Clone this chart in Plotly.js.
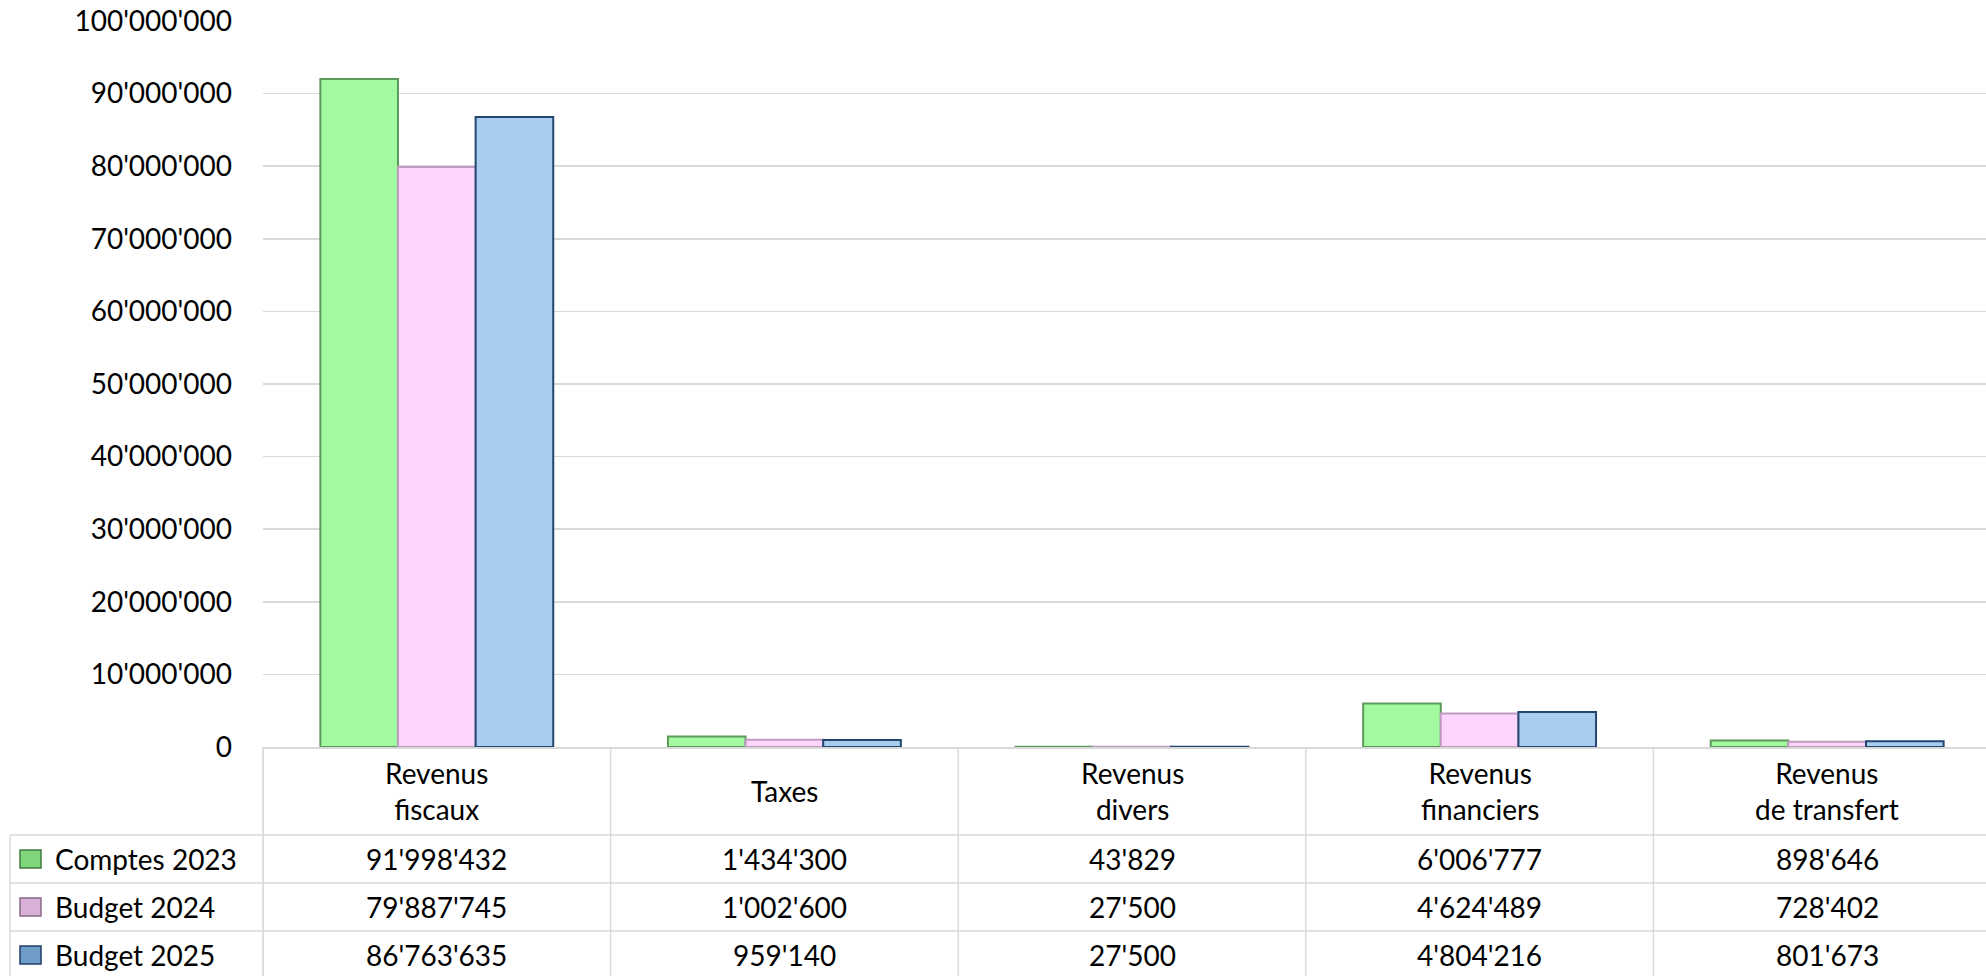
<!DOCTYPE html>
<html><head><meta charset="utf-8">
<script src="https://cdn.plot.ly/plotly-3.0.1.min.js"></script>
<style>html,body{margin:0;padding:0;background:#fff;overflow:hidden}#chart{width:1986px;height:976px}</style>
</head><body><div id="chart"></div>
<script>
// ---- data ----
const categories = ["Revenus<br>fiscaux", "Taxes", "Revenus<br>divers", "Revenus<br>financiers", "Revenus<br>de transfert"];
const seriesNames = ["Comptes 2023", "Budget 2024", "Budget 2025"];
const comptes2023 = [91998432, 1434300, 43829, 6006777, 898646];
const budget2024 = [79887745, 1002600, 27500, 4624489, 728402];
const budget2025 = [86763635, 959140, 27500, 4804216, 801673];
const yTicks = [0, 10000000, 20000000, 30000000, 40000000, 50000000, 60000000, 70000000, 80000000, 90000000, 100000000];

// ---- style ----
const fills = ["#a3f9a0", "#fdd5fd", "#a8cdf0"];
const edges = ["#5c9a59", "#c09ac0", "#23466f"];
const keyFills = ["#7fd57c", "#d8b0d8", "#6f9cc8"];
const keyEdges = ["#3f7a3c", "#8a6a8a", "#1f3f66"];
const FONT = "Lato, 'Open Sans', sans-serif";
const TXT = "#000000";
const GRID = "#d9d9d9";

const W = 1986, H = 976, L = 263, T = 21, B = 747;
const plotW = W - L, plotH = B - T;
const px = X => (X - L) / plotW;
const py = Y => (B - Y) / plotH;

const series = [comptes2023, budget2024, budget2025];
const idx = categories.map((c, i) => i);

function fmt(v) {
  return String(Math.round(v)).replace(/\B(?=(\d{3})+(?!\d))/g, "'");
}

const traces = series.map((vals, s) => ({
  type: "bar",
  name: seriesNames[s],
  x: idx,
  y: vals,
  marker: {color: fills[s], line: {color: edges[s], width: 2}},
  hoverinfo: "skip"
}));

const shapes = [];
const annotations = [];
const lineStyle = {color: GRID, width: 1.5};

const headerTop = B, headerBot = 835, rowH = 48;
const rowLines = [835, 883, 931];

for (let k = 0; k <= categories.length; k++) {
  shapes.push({type: "line", xref: "x", yref: "paper", x0: k - 0.5, x1: k - 0.5,
    y0: py(headerTop), y1: py(H + 5), line: lineStyle, layer: "above"});
}
shapes.push({type: "line", xref: "paper", yref: "paper", x0: px(10), x1: px(10),
  y0: py(headerBot), y1: py(H + 5), line: lineStyle});
shapes.push({type: "line", xref: "paper", yref: "paper", x0: 0, x1: 0,
  y0: py(headerTop), y1: py(H + 5), line: lineStyle});
rowLines.forEach(Y => shapes.push({type: "line", xref: "paper", yref: "paper",
  x0: px(10), x1: 1, y0: py(Y), y1: py(Y), line: lineStyle}));

categories.forEach((c, i) => annotations.push({
  xref: "x", yref: "paper", x: i, y: py((headerTop + headerBot) / 2),
  text: c, showarrow: false, xanchor: "center", yanchor: "middle",
  font: {family: FONT, size: 28, color: TXT}
}));

series.forEach((vals, s) => {
  const top = headerBot + s * rowH;
  const cy = top + rowH / 2;
  shapes.push({type: "rect", xref: "paper", yref: "paper",
    x0: px(20), x1: px(41), y0: py(cy - 9), y1: py(cy + 9),
    fillcolor: keyFills[s], line: {color: keyEdges[s], width: 1.5}});
  annotations.push({xref: "paper", yref: "paper", x: px(53), y: py(cy),
    text: seriesNames[s], showarrow: false, xanchor: "left", yanchor: "middle",
    font: {family: FONT, size: 28, color: TXT}});
  vals.forEach((v, i) => annotations.push({xref: "x", yref: "paper", x: i, y: py(cy),
    text: fmt(v), showarrow: false, xanchor: "center", yanchor: "middle",
    font: {family: FONT, size: 28, color: TXT}}));
});

const layout = {
  width: W, height: H,
  margin: {l: L, r: 0, t: T, b: H - B, pad: 0},
  paper_bgcolor: "#ffffff", plot_bgcolor: "#ffffff",
  separators: ".'",
  barmode: "group", bargap: 0.33, bargroupgap: 0,
  showlegend: false,
  font: {family: FONT, size: 28, color: TXT},
  xaxis: {
    type: "linear", range: [-0.5, -0.5 + plotW / 347.6],
    showticklabels: false, showgrid: false, zeroline: false,
    showline: true, linecolor: GRID, linewidth: 1.5, ticks: "", fixedrange: true
  },
  yaxis: {
    range: [0, 100000000], tickvals: yTicks, tickformat: ",d",
    showgrid: true, gridcolor: GRID, gridwidth: 1.5, zeroline: false,
    showline: false, ticks: "", ticklabelstandoff: 30,
    tickfont: {family: FONT, size: 28, color: TXT}, fixedrange: true
  },
  shapes: shapes,
  annotations: annotations
};

Plotly.newPlot("chart", traces, layout, {staticPlot: true, displayModeBar: false});
</script>
</body></html>
